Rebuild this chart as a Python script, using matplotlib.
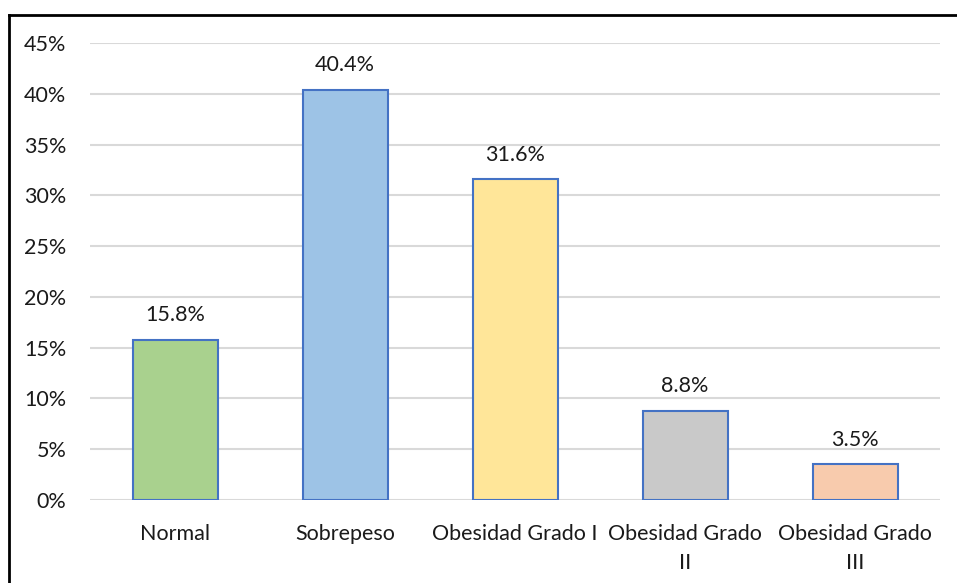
import matplotlib
matplotlib.use("Agg")
import matplotlib.pyplot as plt
from matplotlib.lines import Line2D
from matplotlib.ticker import FuncFormatter, MultipleLocator

categories = ["Normal", "Sobrepeso", "Obesidad Grado I", "Obesidad Grado\nII", "Obesidad Grado\nIII"]
values = [15.8, 40.4, 31.6, 8.8, 3.5]
bar_colors = ["#A9D18E", "#9DC3E6", "#FFE699", "#C9C9C9", "#F8CBAD"]

plt.rcParams["font.family"] = ["Lato", "DejaVu Sans"]
FS = 15.5
TXT = "#1a1a1a"

W, H = 957, 583
fig = plt.figure(figsize=(W / 100, H / 100), dpi=100)
ax = fig.add_axes([90 / W, (H - 500) / H, (940 - 90) / W, (500 - 43) / H])

x = range(len(categories))
ax.bar(x, values, width=0.5, color=bar_colors, edgecolor="#4472C4", linewidth=1.5, zorder=3)
for xi, v in zip(x, values):
    ax.annotate(f"{v:.1f}%", (xi, v), xytext=(0, 10.5), textcoords="offset points",
                ha="center", va="bottom", fontsize=FS, color=TXT)

ax.set_xlim(-0.5, len(categories) - 0.5)
ax.set_ylim(0, 45)
ax.yaxis.set_major_locator(MultipleLocator(5))
ax.yaxis.set_major_formatter(FuncFormatter(lambda v, _: f"{v:.0f}%"))
ax.grid(axis="y", color="#D9D9D9", linewidth=1.5, zorder=0)
ax.set_xticks(list(x))
ax.set_xticklabels(categories, fontsize=FS, color=TXT, linespacing=1.6)
ax.tick_params(axis="y", labelsize=FS, labelcolor=TXT, length=0, pad=17)
ax.tick_params(axis="x", length=0, pad=17)
for s in ax.spines.values():
    s.set_visible(False)

# outer chart frame
fig.add_artist(Line2D([9 / W, 1], [1 - 15 / H, 1 - 15 / H], color="black", linewidth=2))
fig.add_artist(Line2D([9 / W, 9 / W], [0, 1 - 15 / H], color="black", linewidth=2))

fig.savefig("out.png", dpi=100)
